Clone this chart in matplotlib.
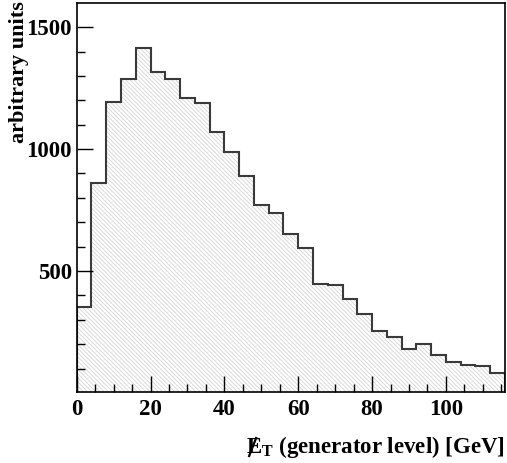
import numpy as np
import matplotlib
matplotlib.use('Agg')
import matplotlib.pyplot as plt
from matplotlib.lines import Line2D
from matplotlib.ticker import MultipleLocator

plt.rcParams['font.family'] = ['Liberation Serif', 'DejaVu Serif']
plt.rcParams['font.weight'] = 'bold'
plt.rcParams['mathtext.fontset'] = 'custom'
plt.rcParams['mathtext.rm'] = 'Liberation Serif:bold'
plt.rcParams['mathtext.bf'] = 'Liberation Serif:bold'
plt.rcParams['mathtext.it'] = 'Liberation Serif:bold'
plt.rcParams['hatch.linewidth'] = 0.5
plt.rcParams['hatch.color'] = '#cccccc'

# missing ET at generator level, 4 GeV bins
edges = np.arange(0, 120, 4)
counts = [352, 863, 1193, 1288, 1415, 1317, 1288, 1211, 1190, 1070,
          989, 888, 770, 738, 650, 594, 448, 443, 385, 324,
          255, 229, 182, 201, 154, 128, 113, 111, 82]

fig = plt.figure(figsize=(5.07, 4.63), dpi=100)
ax = fig.add_axes([76.7/507, 1-391.7/463, (505-76.7)/507, (391.7-3.3)/463])

# hatched area under the histogram
ax.stairs(counts, edges, fill=True, facecolor='white', edgecolor='#cccccc',
          hatch='\\' * 8, linewidth=0)
# histogram outline
ax.stairs(counts, edges, color='#3a3a3a', linewidth=1.5)

ax.set_xlim(0, 116)
ax.set_ylim(5, 1598)
ax.xaxis.set_major_locator(MultipleLocator(20))
ax.xaxis.set_minor_locator(MultipleLocator(5))
ax.yaxis.set_major_locator(MultipleLocator(500))
ax.yaxis.set_minor_locator(MultipleLocator(100))
ax.tick_params(which='both', direction='in', top=False, right=False, labelsize=16.5)
ax.tick_params(which='major', length=11.5, width=1)
ax.tick_params(which='minor', length=6, width=1)
ax.tick_params(axis='x', pad=5)
ax.tick_params(axis='y', pad=3.5)
for lab in ax.get_xticklabels() + ax.get_yticklabels():
    lab.set_fontweight('bold')
for s in ax.spines.values():
    s.set_linewidth(1.2)

fig.text(19/507, 1-1/463, 'arbitrary units', rotation=90, ha='center', va='top',
         fontsize=16, fontweight='bold')
xlab = fig.text(505/507, 1-447/463, r'$\mathrm{E}_{\mathrm{T}}$ (generator level) [GeV]',
                ha='right', va='center', fontsize=16.5, fontweight='bold')

# slash through the E (missing transverse energy)
fig.canvas.draw()
bb = xlab.get_window_extent()
W, H = fig.bbox.width, fig.bbox.height
xs = [(bb.x0 + 3) / W, (bb.x0 + 10) / W]
ys = [(bb.y1 - 22) / H, (bb.y1 - 4) / H]
fig.add_artist(Line2D(xs, ys, transform=fig.transFigure, color='black', linewidth=1.6))

fig.savefig('out.png', dpi=100)
